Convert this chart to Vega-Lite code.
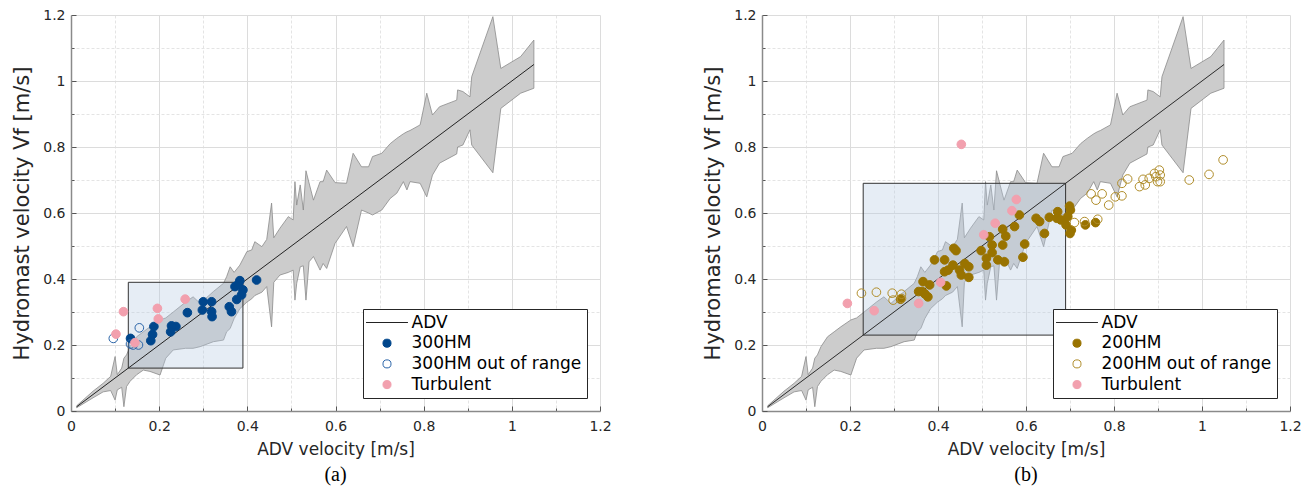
{
  "$schema": "https://vega.github.io/schema/vega-lite/v6.json",
  "padding": {"left": 11, "top": 8, "right": 5, "bottom": 5},
  "config": {
    "view": {"stroke": null},
    "font": "DejaVu Sans",
    "axis": {
      "values": [0,0.05,0.1,0.15,0.2,0.25,0.3,0.35,0.4,0.45,0.5,0.55,0.6,0.65,0.7,0.75,0.8,0.85,0.9,0.95,1,1.05,1.1,1.15,1.2],
      "format": "~g",
      "labelExpr": "round(datum.value*100) % 20 == 0 ? datum.label : ''",
      "labelOverlap": false,
      "labelFlush": false,
      "labelFontSize": 14,
      "labelColor": "#262626",
      "labelFont": "DejaVu Sans",
      "titleFont": "DejaVu Sans",
      "titleFontWeight": "normal",
      "titleColor": "#262626",
      "grid": true,
      "gridColor": {"condition": {"test": "round(datum.value*100) % 20 == 0", "value": "#dcdcdc"}, "value": "#e4e4e4"},
      "gridDash": {"condition": {"test": "round(datum.value*100) % 20 == 0", "value": []}, "value": [3, 2]},
      "tickSize": {"condition": {"test": "round(datum.value*100) % 20 == 0", "value": -5}, "value": -3},
      "tickColor": "#555555",
      "domainColor": "#8a8a8a",
      "domainWidth": 1.5
    },
    "legend": {
      "orient": "bottom-right",
      "offset": 13,
      "title": null,
      "strokeColor": "#262626",
      "fillColor": "white",
      "padding": 5,
      "labelFontSize": 17,
      "labelFont": "DejaVu Sans",
      "labelColor": "#000000",
      "labelLimit": 400,
      "rowPadding": 2.7,
      "symbolSize": 65,
      "symbolStrokeWidth": 1,
      "symbolOffset": 10.5,
      "labelOffset": 16
    },
    "title": {"font": "Liberation Serif", "fontSize": 20, "fontWeight": "normal", "color": "#000000"}
  },
  "datasets": {
    "band": [
      {"x":0.013,"y":0.010,"y2v":0.016},
      {"x":0.05,"y":0.040,"y2v":0.060},
      {"x":0.073,"y":0.058,"y2v":0.084},
      {"x":0.090,"y":0.062,"y2v":0.105},
      {"x":0.100,"y":0.033,"y2v":0.165},
      {"x":0.105,"y":0.064,"y2v":0.110},
      {"x":0.115,"y":0.072,"y2v":0.130},
      {"x":0.120,"y":0.013,"y2v":0.160},
      {"x":0.126,"y":0.074,"y2v":0.170},
      {"x":0.134,"y":0.090,"y2v":0.195},
      {"x":0.149,"y":0.110,"y2v":0.225},
      {"x":0.164,"y":0.124,"y2v":0.240},
      {"x":0.179,"y":0.120,"y2v":0.255},
      {"x":0.202,"y":0.109,"y2v":0.276},
      {"x":0.215,"y":0.160,"y2v":0.282},
      {"x":0.232,"y":0.185,"y2v":0.300},
      {"x":0.260,"y":0.190,"y2v":0.330},
      {"x":0.277,"y":0.190,"y2v":0.346},
      {"x":0.293,"y":0.195,"y2v":0.326},
      {"x":0.323,"y":0.210,"y2v":0.362},
      {"x":0.346,"y":0.215,"y2v":0.387},
      {"x":0.353,"y":0.240,"y2v":0.407},
      {"x":0.361,"y":0.250,"y2v":0.437},
      {"x":0.370,"y":0.280,"y2v":0.420},
      {"x":0.383,"y":0.310,"y2v":0.442},
      {"x":0.399,"y":0.330,"y2v":0.483},
      {"x":0.410,"y":0.340,"y2v":0.488},
      {"x":0.417,"y":0.350,"y2v":0.513},
      {"x":0.433,"y":0.360,"y2v":0.498},
      {"x":0.444,"y":0.377,"y2v":0.520},
      {"x":0.455,"y":0.255,"y2v":0.630},
      {"x":0.460,"y":0.390,"y2v":0.525},
      {"x":0.474,"y":0.412,"y2v":0.554},
      {"x":0.493,"y":0.420,"y2v":0.589},
      {"x":0.504,"y":0.427,"y2v":0.579},
      {"x":0.508,"y":0.336,"y2v":0.695},
      {"x":0.512,"y":0.387,"y2v":0.624},
      {"x":0.520,"y":0.437,"y2v":0.685},
      {"x":0.527,"y":0.440,"y2v":0.609},
      {"x":0.533,"y":0.336,"y2v":0.728},
      {"x":0.540,"y":0.452,"y2v":0.691},
      {"x":0.550,"y":0.468,"y2v":0.639},
      {"x":0.565,"y":0.427,"y2v":0.695},
      {"x":0.572,"y":0.447,"y2v":0.695},
      {"x":0.580,"y":0.432,"y2v":0.730},
      {"x":0.599,"y":0.508,"y2v":0.692},
      {"x":0.625,"y":0.559,"y2v":0.690},
      {"x":0.640,"y":0.498,"y2v":0.781},
      {"x":0.659,"y":0.609,"y2v":0.740},
      {"x":0.675,"y":0.600,"y2v":0.740},
      {"x":0.684,"y":0.594,"y2v":0.771},
      {"x":0.705,"y":0.609,"y2v":0.781},
      {"x":0.724,"y":0.644,"y2v":0.810},
      {"x":0.739,"y":0.660,"y2v":0.826},
      {"x":0.754,"y":0.695,"y2v":0.840},
      {"x":0.762,"y":0.670,"y2v":0.846},
      {"x":0.769,"y":0.695,"y2v":0.850},
      {"x":0.792,"y":0.690,"y2v":0.867},
      {"x":0.807,"y":0.649,"y2v":0.963},
      {"x":0.820,"y":0.715,"y2v":0.897},
      {"x":0.836,"y":0.751,"y2v":0.922},
      {"x":0.875,"y":0.779,"y2v":0.942},
      {"x":0.877,"y":0.800,"y2v":0.973},
      {"x":0.889,"y":0.806,"y2v":0.968},
      {"x":0.905,"y":0.852,"y2v":0.952},
      {"x":0.909,"y":0.806,"y2v":1.013},
      {"x":0.957,"y":0.722,"y2v":1.195},
      {"x":0.975,"y":0.917,"y2v":1.038},
      {"x":1.020,"y":0.963,"y2v":1.074},
      {"x":1.050,"y":0.978,"y2v":1.124}
    ],
    "adv": [
      {"x":0.013,"y":0.013,"s":"ADV"},
      {"x":1.05,"y":1.05,"s":"ADV"}
    ],
    "pointsA": [
      {"x":0.421,"y":0.397,"s":"300HM"},{"x":0.383,"y":0.395,"s":"300HM"},{"x":0.372,"y":0.377,"s":"300HM"},
      {"x":0.390,"y":0.367,"s":"300HM"},{"x":0.387,"y":0.352,"s":"300HM"},{"x":0.376,"y":0.338,"s":"300HM"},
      {"x":0.359,"y":0.316,"s":"300HM"},{"x":0.364,"y":0.301,"s":"300HM"},{"x":0.319,"y":0.331,"s":"300HM"},
      {"x":0.300,"y":0.331,"s":"300HM"},{"x":0.298,"y":0.306,"s":"300HM"},{"x":0.319,"y":0.301,"s":"300HM"},
      {"x":0.320,"y":0.286,"s":"300HM"},{"x":0.264,"y":0.298,"s":"300HM"},{"x":0.238,"y":0.256,"s":"300HM"},
      {"x":0.228,"y":0.258,"s":"300HM"},{"x":0.226,"y":0.240,"s":"300HM"},{"x":0.188,"y":0.256,"s":"300HM"},
      {"x":0.185,"y":0.232,"s":"300HM"},{"x":0.181,"y":0.213,"s":"300HM"},{"x":0.135,"y":0.220,"s":"300HM"},
      {"x":0.380,"y":0.385,"s":"300HM"},
      {"x":0.155,"y":0.252,"s":"300HM out of range"},{"x":0.096,"y":0.220,"s":"300HM out of range"},
      {"x":0.141,"y":0.200,"s":"300HM out of range"},{"x":0.153,"y":0.200,"s":"300HM out of range"},
      {"x":0.135,"y":0.203,"s":"300HM out of range"},
      {"x":0.119,"y":0.301,"s":"Turbulent"},{"x":0.102,"y":0.233,"s":"Turbulent"},{"x":0.145,"y":0.207,"s":"Turbulent"},
      {"x":0.196,"y":0.311,"s":"Turbulent"},{"x":0.198,"y":0.279,"s":"Turbulent"},{"x":0.259,"y":0.339,"s":"Turbulent"}
    ],
    "pointsB": [
      {"x":0.315,"y":0.339,"s":"200HM"},{"x":0.366,"y":0.392,"s":"200HM"},{"x":0.364,"y":0.362,"s":"200HM"},
      {"x":0.377,"y":0.346,"s":"200HM"},{"x":0.381,"y":0.382,"s":"200HM"},{"x":0.392,"y":0.458,"s":"200HM"},
      {"x":0.415,"y":0.458,"s":"200HM"},{"x":0.419,"y":0.379,"s":"200HM"},{"x":0.415,"y":0.422,"s":"200HM"},
      {"x":0.423,"y":0.427,"s":"200HM"},{"x":0.436,"y":0.493,"s":"200HM"},{"x":0.441,"y":0.486,"s":"200HM"},
      {"x":0.434,"y":0.442,"s":"200HM"},{"x":0.449,"y":0.427,"s":"200HM"},{"x":0.453,"y":0.412,"s":"200HM"},
      {"x":0.461,"y":0.447,"s":"200HM"},{"x":0.470,"y":0.437,"s":"200HM"},{"x":0.470,"y":0.405,"s":"200HM"},
      {"x":0.498,"y":0.486,"s":"200HM"},{"x":0.510,"y":0.463,"s":"200HM"},{"x":0.510,"y":0.442,"s":"200HM"},
      {"x":0.517,"y":0.528,"s":"200HM"},{"x":0.523,"y":0.503,"s":"200HM"},{"x":0.523,"y":0.480,"s":"200HM"},
      {"x":0.536,"y":0.458,"s":"200HM"},{"x":0.551,"y":0.452,"s":"200HM"},{"x":0.547,"y":0.503,"s":"200HM"},
      {"x":0.547,"y":0.551,"s":"200HM"},{"x":0.554,"y":0.530,"s":"200HM"},{"x":0.574,"y":0.559,"s":"200HM"},
      {"x":0.597,"y":0.506,"s":"200HM"},{"x":0.593,"y":0.466,"s":"200HM"},{"x":0.585,"y":0.594,"s":"200HM"},
      {"x":0.623,"y":0.584,"s":"200HM"},{"x":0.631,"y":0.574,"s":"200HM"},{"x":0.642,"y":0.538,"s":"200HM"},
      {"x":0.653,"y":0.587,"s":"200HM"},{"x":0.672,"y":0.604,"s":"200HM"},{"x":0.670,"y":0.584,"s":"200HM"},
      {"x":0.679,"y":0.579,"s":"200HM"},{"x":0.699,"y":0.621,"s":"200HM"},{"x":0.701,"y":0.609,"s":"200HM"},
      {"x":0.695,"y":0.589,"s":"200HM"},{"x":0.691,"y":0.564,"s":"200HM"},{"x":0.703,"y":0.548,"s":"200HM"},
      {"x":0.700,"y":0.538,"s":"200HM"},{"x":0.735,"y":0.564,"s":"200HM"},{"x":0.758,"y":0.571,"s":"200HM"},
      {"x":0.370,"y":0.355,"s":"200HM"},{"x":0.356,"y":0.362,"s":"200HM"},
      {"x":0.226,"y":0.357,"s":"200HM out of range"},{"x":0.260,"y":0.360,"s":"200HM out of range"},
      {"x":0.296,"y":0.357,"s":"200HM out of range"},{"x":0.298,"y":0.336,"s":"200HM out of range"},
      {"x":0.317,"y":0.354,"s":"200HM out of range"},{"x":0.317,"y":0.341,"s":"200HM out of range"},
      {"x":0.710,"y":0.571,"s":"200HM out of range"},{"x":0.733,"y":0.574,"s":"200HM out of range"},
      {"x":0.763,"y":0.581,"s":"200HM out of range"},{"x":0.748,"y":0.658,"s":"200HM out of range"},
      {"x":0.759,"y":0.639,"s":"200HM out of range"},{"x":0.773,"y":0.658,"s":"200HM out of range"},
      {"x":0.788,"y":0.624,"s":"200HM out of range"},{"x":0.803,"y":0.649,"s":"200HM out of range"},
      {"x":0.818,"y":0.652,"s":"200HM out of range"},{"x":0.818,"y":0.690,"s":"200HM out of range"},
      {"x":0.831,"y":0.703,"s":"200HM out of range"},{"x":0.858,"y":0.680,"s":"200HM out of range"},
      {"x":0.871,"y":0.685,"s":"200HM out of range"},{"x":0.866,"y":0.702,"s":"200HM out of range"},
      {"x":0.880,"y":0.705,"s":"200HM out of range"},{"x":0.892,"y":0.720,"s":"200HM out of range"},
      {"x":0.895,"y":0.710,"s":"200HM out of range"},{"x":0.899,"y":0.695,"s":"200HM out of range"},
      {"x":0.903,"y":0.730,"s":"200HM out of range"},{"x":0.905,"y":0.715,"s":"200HM out of range"},
      {"x":0.905,"y":0.695,"s":"200HM out of range"},{"x":0.971,"y":0.700,"s":"200HM out of range"},
      {"x":1.016,"y":0.717,"s":"200HM out of range"},{"x":1.048,"y":0.761,"s":"200HM out of range"},
      {"x":0.194,"y":0.326,"s":"Turbulent"},{"x":0.255,"y":0.304,"s":"Turbulent"},{"x":0.356,"y":0.326,"s":"Turbulent"},
      {"x":0.406,"y":0.390,"s":"Turbulent"},{"x":0.453,"y":0.808,"s":"Turbulent"},{"x":0.578,"y":0.641,"s":"Turbulent"},
      {"x":0.568,"y":0.607,"s":"Turbulent"},{"x":0.530,"y":0.569,"s":"Turbulent"},{"x":0.504,"y":0.534,"s":"Turbulent"}
    ]
  },
  "hconcat": [
    {
      "width": 529,
      "height": 396,
      "title": {"text": "(a)", "orient": "bottom", "offset": 8},
      "encoding": {
        "x": {"field": "x", "type": "quantitative", "scale": {"domain": [0, 1.2], "nice": false}, "axis": {"title": "ADV velocity [m/s]", "titleFontSize": 17, "titlePadding": 6, "labelPadding": 13}},
        "y": {"field": "y", "type": "quantitative", "scale": {"domain": [0, 1.2], "nice": false}, "axis": {"title": "Hydromast velocity Vf [m/s]", "titleFontSize": 21, "titlePadding": 10, "labelPadding": 11}}
      },
      "layer": [
        {"data": {"name": "band"}, "mark": {"type": "area", "color": "#cccccc", "stroke": "#8a8a8a", "strokeWidth": 0.8, "opacity": 1}, "encoding": {"y2": {"field": "y2v"}}},
        {"data": {"values": [{"x": 0.13, "xe": 0.39, "y": 0.13, "ye": 0.39}]}, "mark": {"type": "rect", "fill": "#b7cbe3", "fillOpacity": 0.35, "stroke": "#333333", "strokeWidth": 1}, "encoding": {"x2": {"field": "xe"}, "y2": {"field": "ye"}}},
        {"data": {"name": "adv"}, "mark": {"type": "line", "strokeWidth": 1}, "encoding": {
          "stroke": {"field": "s", "type": "nominal", "scale": {"domain": ["ADV", "300HM", "300HM out of range", "Turbulent"], "range": ["#222222", "#00468c", "#2a64a8", "#f2a0ae"]}}
        }},
        {"data": {"name": "pointsA"}, "mark": {"type": "point", "size": 75, "strokeWidth": 1, "opacity": 1}, "encoding": {
          "stroke": {"field": "s", "type": "nominal", "scale": {"domain": ["ADV", "300HM", "300HM out of range", "Turbulent"], "range": ["#222222", "#00468c", "#2a64a8", "#f2a0ae"]}},
          "fill": {"field": "s", "type": "nominal", "scale": {"domain": ["ADV", "300HM", "300HM out of range", "Turbulent"], "range": ["transparent", "#00468c", "transparent", "#f2a0ae"]}},
          "shape": {"field": "s", "type": "nominal", "scale": {"domain": ["ADV", "300HM", "300HM out of range", "Turbulent"], "range": ["M-5.2,0H5.2", "circle", "circle", "circle"]}}
        }}
      ]
    },
    {
      "width": 528,
      "height": 396,
      "title": {"text": "(b)", "orient": "bottom", "offset": 8},
      "encoding": {
        "x": {"field": "x", "type": "quantitative", "scale": {"domain": [0, 1.2], "nice": false}, "axis": {"title": "ADV velocity [m/s]", "titleFontSize": 17, "titlePadding": 6, "labelPadding": 13}},
        "y": {"field": "y", "type": "quantitative", "scale": {"domain": [0, 1.2], "nice": false}, "axis": {"title": "Hydromast velocity Vf [m/s]", "titleFontSize": 21, "titlePadding": 10, "labelPadding": 11}}
      },
      "layer": [
        {"data": {"name": "band"}, "mark": {"type": "area", "color": "#cccccc", "stroke": "#8a8a8a", "strokeWidth": 0.8, "opacity": 1}, "encoding": {"y2": {"field": "y2v"}}},
        {"data": {"values": [{"x": 0.23, "xe": 0.69, "y": 0.23, "ye": 0.69}]}, "mark": {"type": "rect", "fill": "#b7cbe3", "fillOpacity": 0.35, "stroke": "#333333", "strokeWidth": 1}, "encoding": {"x2": {"field": "xe"}, "y2": {"field": "ye"}}},
        {"data": {"name": "adv"}, "mark": {"type": "line", "strokeWidth": 1}, "encoding": {
          "stroke": {"field": "s", "type": "nominal", "scale": {"domain": ["ADV", "200HM", "200HM out of range", "Turbulent"], "range": ["#2a2a2a", "#997300", "#b08d2a", "#f2a0ae"]}}
        }},
        {"data": {"name": "pointsB"}, "mark": {"type": "point", "size": 75, "strokeWidth": 1, "opacity": 1}, "encoding": {
          "stroke": {"field": "s", "type": "nominal", "scale": {"domain": ["ADV", "200HM", "200HM out of range", "Turbulent"], "range": ["#2a2a2a", "#997300", "#b08d2a", "#f2a0ae"]}},
          "fill": {"field": "s", "type": "nominal", "scale": {"domain": ["ADV", "200HM", "200HM out of range", "Turbulent"], "range": ["transparent", "#997300", "transparent", "#f2a0ae"]}},
          "shape": {"field": "s", "type": "nominal", "scale": {"domain": ["ADV", "200HM", "200HM out of range", "Turbulent"], "range": ["M-5.2,0H5.2", "circle", "circle", "circle"]}}
        }}
      ]
    }
  ],
  "spacing": 90,
  "resolve": {
    "scale": {"stroke": "independent", "fill": "independent", "shape": "independent"},
    "legend": {"stroke": "independent", "fill": "independent", "shape": "independent"}
  }
}
